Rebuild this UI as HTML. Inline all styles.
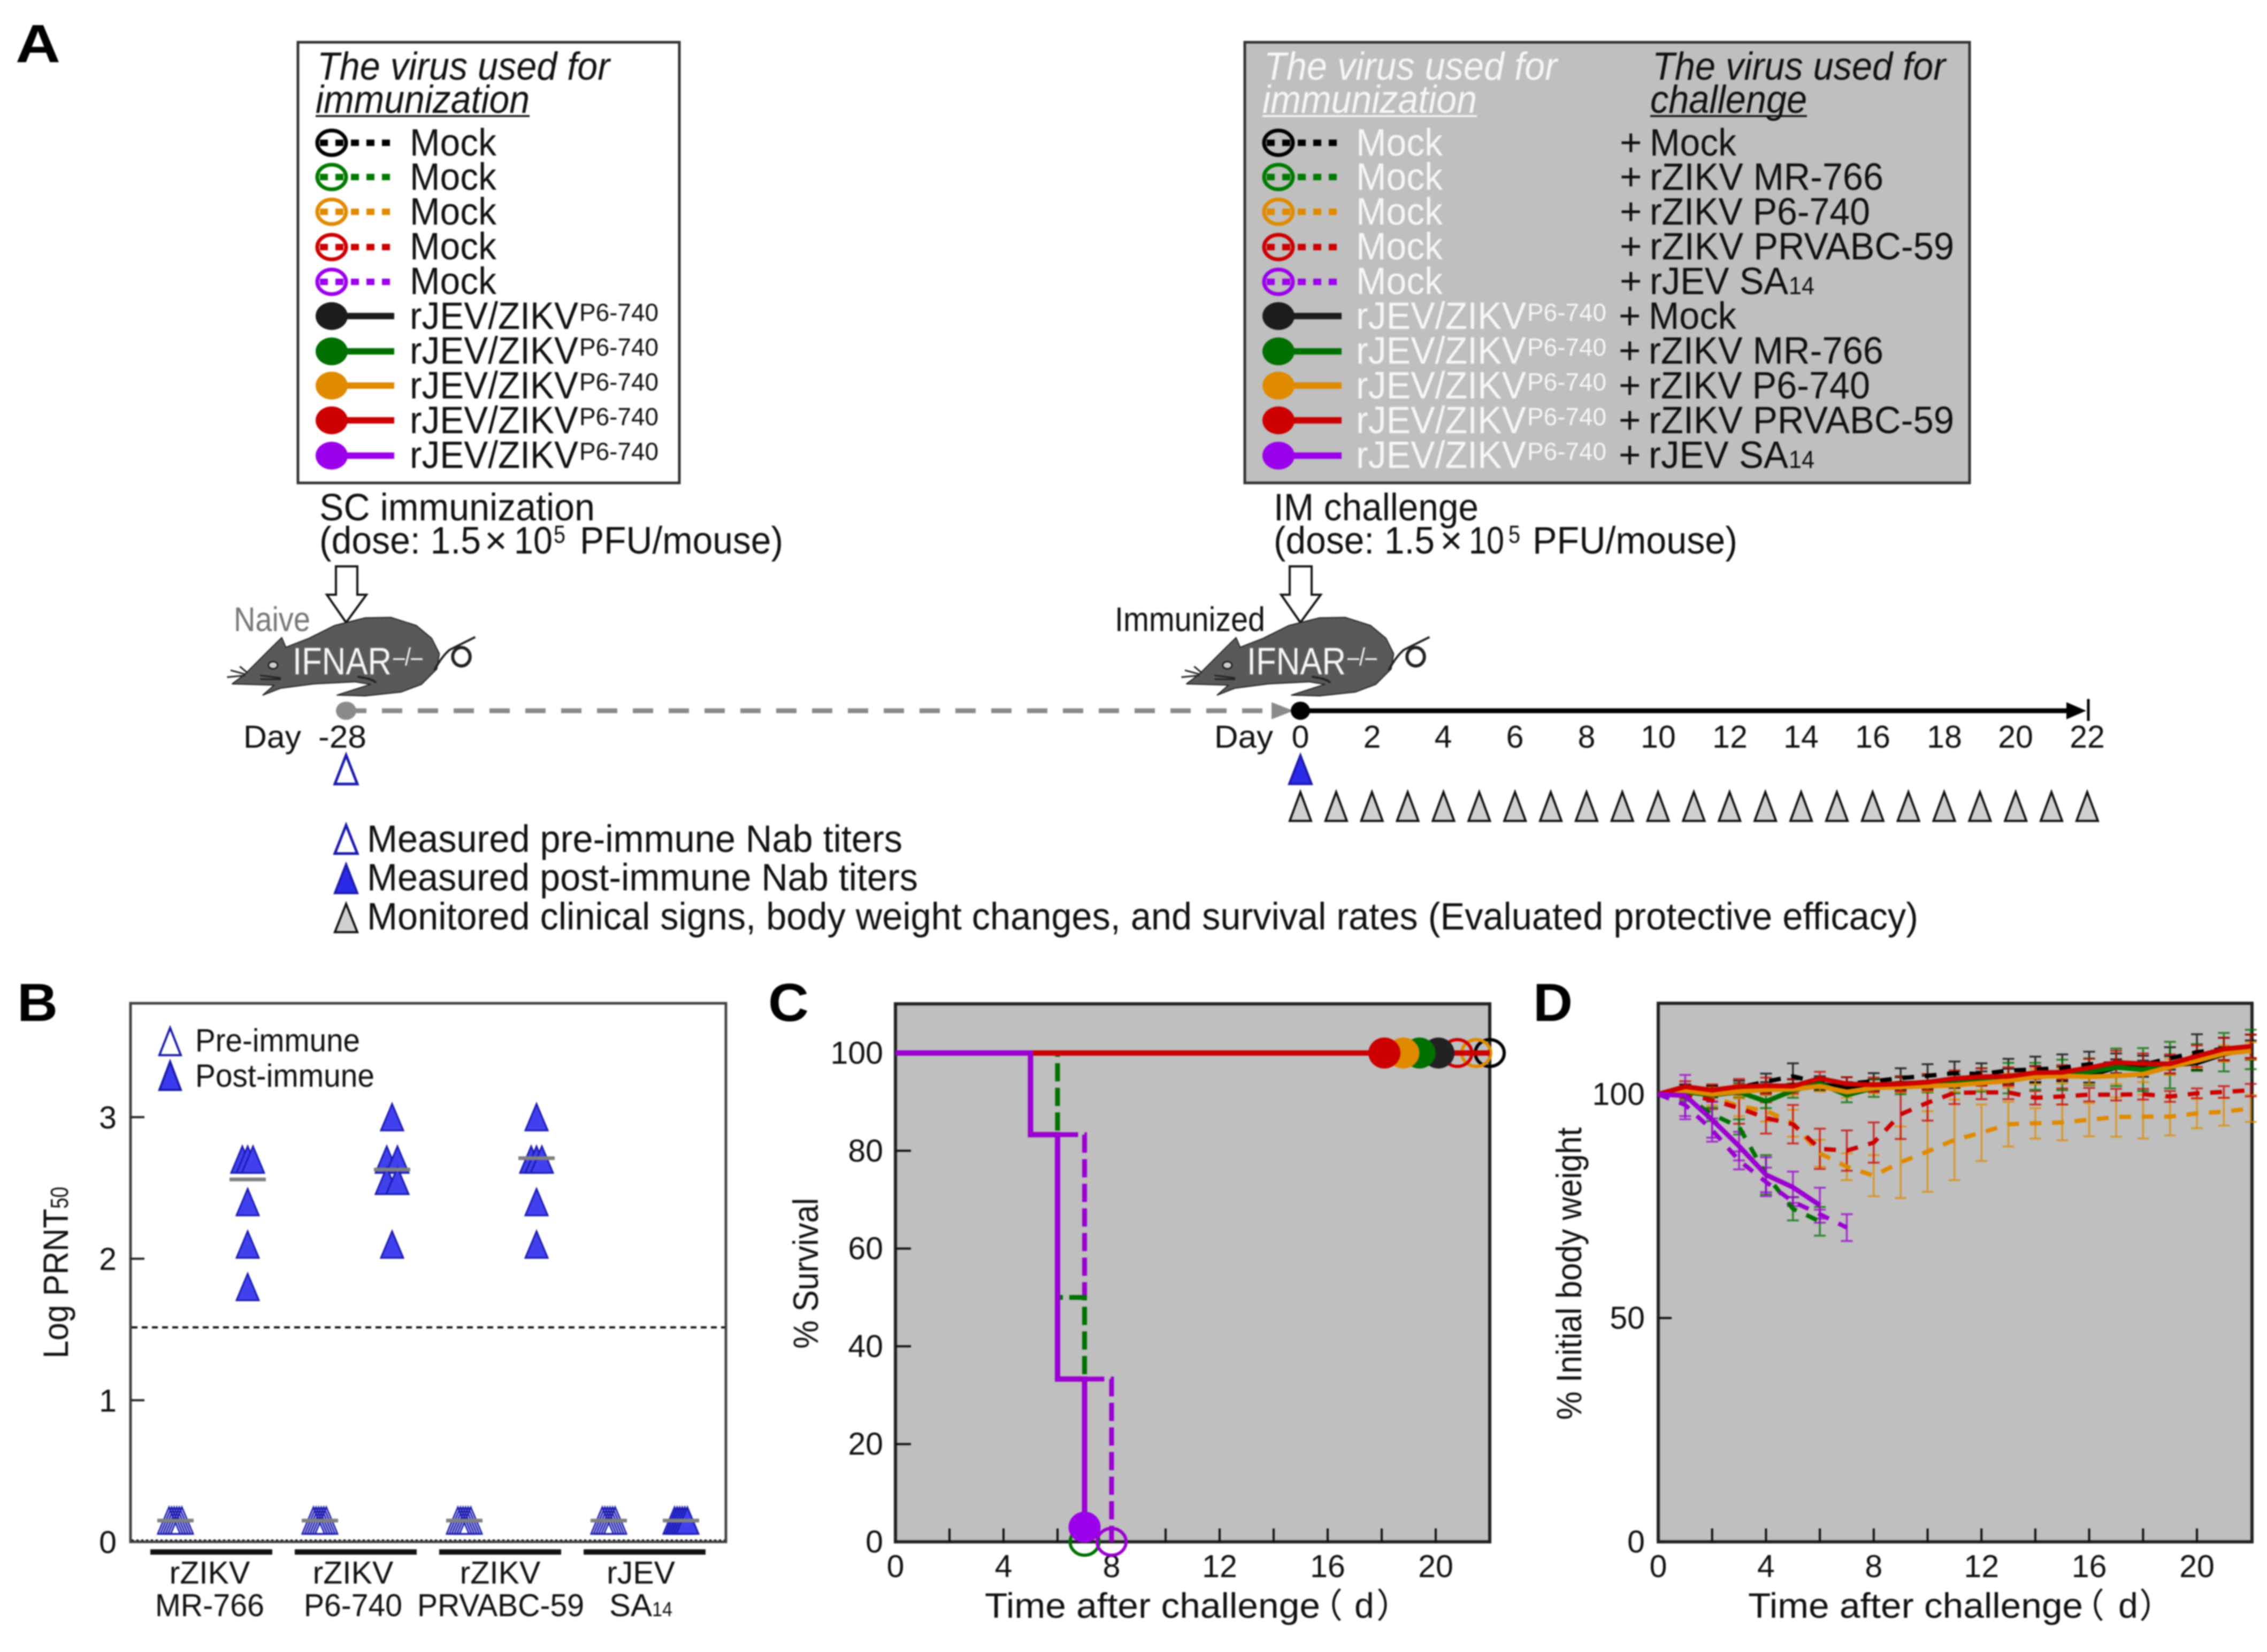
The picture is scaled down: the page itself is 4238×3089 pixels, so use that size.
<!DOCTYPE html>
<html lang="en">
<head>
<meta charset="utf-8">
<title>Immunization and challenge study figure</title>
<style>
html,body{margin:0;padding:0;background:#fff;width:4238px;height:3089px;overflow:hidden}
svg{display:block;filter:blur(1.2px)}
text{font-family:"Liberation Sans","Noto Sans CJK SC",sans-serif;font-size:71px;fill:#111}
.it{font-style:italic;font-size:73px}
.w{fill:#f6f6f6}
.sup{font-size:46px}
.pl{font-weight:bold;font-size:100px;fill:#000}
.tl{font-size:59px}
.mn{font-size:64px}
.open ellipse{fill:none;stroke:currentColor;stroke-width:7}
.open line{stroke:currentColor;stroke-width:12;stroke-dasharray:15 14}
.full ellipse{fill:currentColor}
.full line{stroke:currentColor;stroke-width:12}
.ul{stroke-width:3.5}
</style>
</head>
<body>
<svg id="fig" xmlns="http://www.w3.org/2000/svg" width="4238" height="3089" viewBox="0 0 4238 3089">
<rect width="4238" height="3089" fill="#fff"/>

<text class="pl" x="29" y="116" textLength="84" lengthAdjust="spacingAndGlyphs">A</text>
<text class="pl" x="32" y="1909" textLength="76" lengthAdjust="spacingAndGlyphs">B</text>
<text class="pl" x="1436" y="1909" textLength="76" lengthAdjust="spacingAndGlyphs">C</text>
<text class="pl" x="2866" y="1909" textLength="74" lengthAdjust="spacingAndGlyphs">D</text>

<!-- left legend -->
<g>
<rect x="557" y="79" width="713" height="824" fill="#fff" stroke="#333" stroke-width="5"/>
<text class="it" x="593" y="149" textLength="547" lengthAdjust="spacingAndGlyphs">The virus used for</text>
<text class="it" x="590" y="211" textLength="400" lengthAdjust="spacingAndGlyphs">immunization</text>
<line class="ul" x1="590" y1="217" x2="990" y2="217" stroke="#111"/>
<g class="open" color="#000"><ellipse cx="620" cy="267" rx="27" ry="23"/><line x1="598" y1="267" x2="732" y2="267"/></g>
<g class="open" color="#007a00"><ellipse cx="620" cy="331" rx="27" ry="23"/><line x1="598" y1="331" x2="732" y2="331"/></g>
<g class="open" color="#e08a00"><ellipse cx="620" cy="396" rx="27" ry="23"/><line x1="598" y1="396" x2="732" y2="396"/></g>
<g class="open" color="#cc0000"><ellipse cx="620" cy="462" rx="27" ry="23"/><line x1="598" y1="462" x2="732" y2="462"/></g>
<g class="open" color="#9a00ea"><ellipse cx="620" cy="527" rx="27" ry="23"/><line x1="598" y1="527" x2="732" y2="527"/></g>
<g class="full" color="#1c1c1c"><ellipse cx="620" cy="591" rx="30" ry="26"/><line x1="645" y1="591" x2="737" y2="591" stroke="#000"/></g>
<g class="full" color="#007000"><ellipse cx="620" cy="657" rx="30" ry="26"/><line x1="645" y1="657" x2="737" y2="657"/></g>
<g class="full" color="#e08a00"><ellipse cx="620" cy="721" rx="30" ry="26"/><line x1="645" y1="721" x2="737" y2="721"/></g>
<g class="full" color="#cc0000"><ellipse cx="620" cy="786" rx="30" ry="26"/><line x1="645" y1="786" x2="737" y2="786"/></g>
<g class="full" color="#9a00ea"><ellipse cx="620" cy="852" rx="30" ry="26"/><line x1="645" y1="852" x2="737" y2="852"/></g>
<text x="766" y="291" textLength="162" lengthAdjust="spacingAndGlyphs">Mock</text>
<text x="766" y="355" textLength="162" lengthAdjust="spacingAndGlyphs">Mock</text>
<text x="766" y="420" textLength="162" lengthAdjust="spacingAndGlyphs">Mock</text>
<text x="766" y="485" textLength="162" lengthAdjust="spacingAndGlyphs">Mock</text>
<text x="766" y="550" textLength="162" lengthAdjust="spacingAndGlyphs">Mock</text>
<text x="766" y="615" textLength="315" lengthAdjust="spacingAndGlyphs">rJEV/ZIKV</text><text class="sup" x="1083" y="600" textLength="148" lengthAdjust="spacingAndGlyphs">P6-740</text>
<text x="766" y="680" textLength="315" lengthAdjust="spacingAndGlyphs">rJEV/ZIKV</text><text class="sup" x="1083" y="665" textLength="148" lengthAdjust="spacingAndGlyphs">P6-740</text>
<text x="766" y="745" textLength="315" lengthAdjust="spacingAndGlyphs">rJEV/ZIKV</text><text class="sup" x="1083" y="730" textLength="148" lengthAdjust="spacingAndGlyphs">P6-740</text>
<text x="766" y="810" textLength="315" lengthAdjust="spacingAndGlyphs">rJEV/ZIKV</text><text class="sup" x="1083" y="795" textLength="148" lengthAdjust="spacingAndGlyphs">P6-740</text>
<text x="766" y="875" textLength="315" lengthAdjust="spacingAndGlyphs">rJEV/ZIKV</text><text class="sup" x="1083" y="860" textLength="148" lengthAdjust="spacingAndGlyphs">P6-740</text>
</g>

<!-- right legend -->
<g>
<rect x="2327" y="79" width="1355" height="824" fill="#bfbfbf" stroke="#333" stroke-width="5"/>
<text class="it w" x="2363" y="149" textLength="548" lengthAdjust="spacingAndGlyphs">The virus used for</text>
<text class="it w" x="2360" y="211" textLength="401" lengthAdjust="spacingAndGlyphs">immunization</text>
<line class="ul" x1="2360" y1="217" x2="2761" y2="217" stroke="#f6f6f6"/>
<text class="it" x="3089" y="149" textLength="548" lengthAdjust="spacingAndGlyphs">The virus used for</text>
<text class="it" x="3085" y="211" textLength="293" lengthAdjust="spacingAndGlyphs">challenge</text>
<line class="ul" x1="3085" y1="217" x2="3378" y2="217" stroke="#111"/>
<g class="open" color="#000"><ellipse cx="2390" cy="267" rx="27" ry="23"/><line x1="2368" y1="267" x2="2500" y2="267"/></g>
<g class="open" color="#007a00"><ellipse cx="2390" cy="331" rx="27" ry="23"/><line x1="2368" y1="331" x2="2500" y2="331"/></g>
<g class="open" color="#e08a00"><ellipse cx="2390" cy="396" rx="27" ry="23"/><line x1="2368" y1="396" x2="2500" y2="396"/></g>
<g class="open" color="#cc0000"><ellipse cx="2390" cy="462" rx="27" ry="23"/><line x1="2368" y1="462" x2="2500" y2="462"/></g>
<g class="open" color="#9a00ea"><ellipse cx="2390" cy="527" rx="27" ry="23"/><line x1="2368" y1="527" x2="2500" y2="527"/></g>
<g class="full" color="#1c1c1c"><ellipse cx="2390" cy="591" rx="30" ry="26"/><line x1="2415" y1="591" x2="2508" y2="591" stroke="#000"/></g>
<g class="full" color="#007000"><ellipse cx="2390" cy="657" rx="30" ry="26"/><line x1="2415" y1="657" x2="2508" y2="657"/></g>
<g class="full" color="#e08a00"><ellipse cx="2390" cy="721" rx="30" ry="26"/><line x1="2415" y1="721" x2="2508" y2="721"/></g>
<g class="full" color="#cc0000"><ellipse cx="2390" cy="786" rx="30" ry="26"/><line x1="2415" y1="786" x2="2508" y2="786"/></g>
<g class="full" color="#9a00ea"><ellipse cx="2390" cy="852" rx="30" ry="26"/><line x1="2415" y1="852" x2="2508" y2="852"/></g>
<text class="w" x="2535" y="291" textLength="162" lengthAdjust="spacingAndGlyphs">Mock</text>
<text class="w" x="2535" y="355" textLength="162" lengthAdjust="spacingAndGlyphs">Mock</text>
<text class="w" x="2535" y="420" textLength="162" lengthAdjust="spacingAndGlyphs">Mock</text>
<text class="w" x="2535" y="485" textLength="162" lengthAdjust="spacingAndGlyphs">Mock</text>
<text class="w" x="2535" y="550" textLength="162" lengthAdjust="spacingAndGlyphs">Mock</text>
<text class="w" x="2535" y="615" textLength="318" lengthAdjust="spacingAndGlyphs">rJEV/ZIKV</text><text class="sup w" x="2855" y="600" textLength="148" lengthAdjust="spacingAndGlyphs">P6-740</text>
<text class="w" x="2535" y="680" textLength="318" lengthAdjust="spacingAndGlyphs">rJEV/ZIKV</text><text class="sup w" x="2855" y="665" textLength="148" lengthAdjust="spacingAndGlyphs">P6-740</text>
<text class="w" x="2535" y="745" textLength="318" lengthAdjust="spacingAndGlyphs">rJEV/ZIKV</text><text class="sup w" x="2855" y="730" textLength="148" lengthAdjust="spacingAndGlyphs">P6-740</text>
<text class="w" x="2535" y="810" textLength="318" lengthAdjust="spacingAndGlyphs">rJEV/ZIKV</text><text class="sup w" x="2855" y="795" textLength="148" lengthAdjust="spacingAndGlyphs">P6-740</text>
<text class="w" x="2535" y="875" textLength="318" lengthAdjust="spacingAndGlyphs">rJEV/ZIKV</text><text class="sup w" x="2855" y="860" textLength="148" lengthAdjust="spacingAndGlyphs">P6-740</text>
<text x="3028" y="291">+</text><text x="3084" y="291" textLength="162" lengthAdjust="spacingAndGlyphs">Mock</text>
<text x="3028" y="355">+</text><text x="3084" y="355" textLength="437" lengthAdjust="spacingAndGlyphs">rZIKV MR-766</text>
<text x="3028" y="420">+</text><text x="3084" y="420" textLength="412" lengthAdjust="spacingAndGlyphs">rZIKV P6-740</text>
<text x="3028" y="485">+</text><text x="3084" y="485" textLength="569" lengthAdjust="spacingAndGlyphs">rZIKV PRVABC-59</text>
<text x="3028" y="550">+</text><text x="3084" y="550" textLength="259" lengthAdjust="spacingAndGlyphs">rJEV SA</text><text class="sup" x="3344" y="550" textLength="48" lengthAdjust="spacingAndGlyphs">14</text>
<text x="3026" y="615">+</text><text x="3082" y="615" textLength="164" lengthAdjust="spacingAndGlyphs">Mock</text>
<text x="3026" y="680">+</text><text x="3082" y="680" textLength="439" lengthAdjust="spacingAndGlyphs">rZIKV MR-766</text>
<text x="3026" y="745">+</text><text x="3082" y="745" textLength="414" lengthAdjust="spacingAndGlyphs">rZIKV P6-740</text>
<text x="3026" y="810">+</text><text x="3082" y="810" textLength="571" lengthAdjust="spacingAndGlyphs">rZIKV PRVABC-59</text>
<text x="3026" y="875">+</text><text x="3082" y="875" textLength="261" lengthAdjust="spacingAndGlyphs">rJEV SA</text><text class="sup" x="3344" y="875" textLength="48" lengthAdjust="spacingAndGlyphs">14</text>
</g>

<!-- dose text -->
<g>
<text x="597" y="973" textLength="515" lengthAdjust="spacingAndGlyphs">SC immunization</text>
<text x="597" y="1035" textLength="302" lengthAdjust="spacingAndGlyphs">(dose: 1.5</text>
<text x="906" y="1035" textLength="42" lengthAdjust="spacingAndGlyphs">×</text>
<text x="961" y="1035" textLength="72" lengthAdjust="spacingAndGlyphs">10</text>
<text class="sup" x="1035" y="1015" textLength="22" lengthAdjust="spacingAndGlyphs">5</text>
<text x="1084" y="1035" textLength="380" lengthAdjust="spacingAndGlyphs">PFU/mouse)</text>
</g>
<g>
<text x="2381" y="973" textLength="383" lengthAdjust="spacingAndGlyphs">IM challenge</text>
<text x="2381" y="1035" textLength="301" lengthAdjust="spacingAndGlyphs">(dose: 1.5</text>
<text x="2692" y="1035" textLength="42" lengthAdjust="spacingAndGlyphs">×</text>
<text x="2746" y="1035" textLength="66" lengthAdjust="spacingAndGlyphs">10</text>
<text class="sup" x="2820" y="1015" textLength="22" lengthAdjust="spacingAndGlyphs">5</text>
<text x="2865" y="1035" textLength="383" lengthAdjust="spacingAndGlyphs">PFU/mouse)</text>
</g>

<!-- mice -->
<g id="mouse1">
<polygon points="628,1059 668,1059 668,1112 685,1112 647,1164 611,1112 628,1112" fill="#fff" stroke="#111" stroke-width="4"/>
<g transform="translate(300,1050) scale(0.9567,0.4785)">
<path d="M140 478 L165 440 L215 340 L237 297 L245 335 L290 300 L340 250 L400 220 L450 218 L500 250 L530 300 L545 360 L540 420 L510 480 L470 510 L400 525 L345 522 L410 480 L380 470 L300 478 L235 495 L200 522 L222 483 Z" fill="#595959" stroke="#222" stroke-width="2" stroke-linejoin="round" vector-effect="non-scaling-stroke"/>
<path d="M535 425 Q550 370 565 345 L615 295 M385 450 Q420 460 420 475" fill="none" stroke="#222" stroke-width="4" vector-effect="non-scaling-stroke"/>
<ellipse cx="588" cy="372" rx="17" ry="36" fill="none" stroke="#222" stroke-width="6" vector-effect="non-scaling-stroke"/>
<ellipse cx="220" cy="405" rx="9" ry="14" fill="#ccc" stroke="#222" stroke-width="3" vector-effect="non-scaling-stroke"/>
<path d="M130 452 L165 445 M137 425 L165 440 M155 410 L170 435 M195 445 L235 455 M195 460 L235 460" fill="none" stroke="#222" stroke-width="3" vector-effect="non-scaling-stroke"/>
</g>
</g>
<g>
<polygon points="2411,1059 2452,1059 2452,1112 2469,1112 2431,1164 2395,1112 2411,1112" fill="#fff" stroke="#111" stroke-width="4"/>
<g transform="translate(2084,1050) scale(0.9567,0.4785)">
<path d="M140 478 L165 440 L215 340 L237 297 L245 335 L290 300 L340 250 L400 220 L450 218 L500 250 L530 300 L545 360 L540 420 L510 480 L470 510 L400 525 L345 522 L410 480 L380 470 L300 478 L235 495 L200 522 L222 483 Z" fill="#595959" stroke="#222" stroke-width="2" stroke-linejoin="round" vector-effect="non-scaling-stroke"/>
<path d="M535 425 Q550 370 565 345 L615 295 M385 450 Q420 460 420 475" fill="none" stroke="#222" stroke-width="4" vector-effect="non-scaling-stroke"/>
<ellipse cx="588" cy="372" rx="17" ry="36" fill="none" stroke="#222" stroke-width="6" vector-effect="non-scaling-stroke"/>
<ellipse cx="220" cy="405" rx="9" ry="14" fill="#ccc" stroke="#222" stroke-width="3" vector-effect="non-scaling-stroke"/>
<path d="M130 452 L165 445 M137 425 L165 440 M155 410 L170 435 M195 445 L235 455 M195 460 L235 460" fill="none" stroke="#222" stroke-width="3" vector-effect="non-scaling-stroke"/>
</g>
</g>
<text class="mn" x="437" y="1180" style="fill:#777" textLength="143" lengthAdjust="spacingAndGlyphs">Naive</text>
<text class="mn" x="2084" y="1180" textLength="281" lengthAdjust="spacingAndGlyphs">Immunized</text>
<text class="w" x="547" y="1261" textLength="185" lengthAdjust="spacingAndGlyphs">IFNAR</text>
<text class="sup w" x="735" y="1244" textLength="55" lengthAdjust="spacingAndGlyphs">–/–</text>
<text class="w" x="2331" y="1261" textLength="185" lengthAdjust="spacingAndGlyphs">IFNAR</text>
<text class="sup w" x="2519" y="1244" textLength="55" lengthAdjust="spacingAndGlyphs">–/–</text>

<!-- timeline -->
<g>
<ellipse cx="647" cy="1329" rx="19" ry="17" fill="#8a8a8a"/>
<line x1="647" y1="1329" x2="2378" y2="1329" stroke="#8a8a8a" stroke-width="9" stroke-dasharray="38 29"/>
<polygon points="2377,1313 2418,1329 2377,1345" fill="#8a8a8a"/>
<line x1="2431" y1="1329" x2="3870" y2="1329" stroke="#000" stroke-width="9"/>
<ellipse cx="2431" cy="1329" rx="18" ry="17" fill="#000"/>
<polygon points="3863,1313 3900,1329 3863,1345" fill="#000"/>
<line x1="3904" y1="1307" x2="3904" y2="1348" stroke="#000" stroke-width="5"/>
</g>
<g>
<text class="tl" x="455" y="1398" textLength="108" lengthAdjust="spacingAndGlyphs">Day</text>
<text class="tl" x="595" y="1398" textLength="90" lengthAdjust="spacingAndGlyphs">-28</text>
<text class="tl" x="2270" y="1398" textLength="110" lengthAdjust="spacingAndGlyphs">Day</text>
<text class="tl" x="2431" y="1398" text-anchor="middle">0</text>
<text class="tl" x="2565" y="1398" text-anchor="middle">2</text>
<text class="tl" x="2698" y="1398" text-anchor="middle">4</text>
<text class="tl" x="2832" y="1398" text-anchor="middle">6</text>
<text class="tl" x="2966" y="1398" text-anchor="middle">8</text>
<text class="tl" x="3100" y="1398" text-anchor="middle">10</text>
<text class="tl" x="3234" y="1398" text-anchor="middle">12</text>
<text class="tl" x="3367" y="1398" text-anchor="middle">14</text>
<text class="tl" x="3501" y="1398" text-anchor="middle">16</text>
<text class="tl" x="3635" y="1398" text-anchor="middle">18</text>
<text class="tl" x="3768" y="1398" text-anchor="middle">20</text>
<text class="tl" x="3902" y="1398" text-anchor="middle">22</text>
</g>
<polygon points="647,1412 668,1466 626,1466" fill="#fff" stroke="#1a1aaa" stroke-width="5"/>
<polygon points="2431,1412 2452,1466 2410,1466" fill="#2a2ae8" stroke="#1a1aaa" stroke-width="4"/>
<g id="monitorMarks"></g>

<!-- notes -->
<g>
<polygon points="647,1543 668,1596 626,1596" fill="#fff" stroke="#1a1aaa" stroke-width="5"/>
<polygon points="647,1616 668,1670 626,1670" fill="#2a2ae8" stroke="#1a1aaa" stroke-width="4"/>
<polygon points="647,1690 668,1743 626,1743" fill="#d0d0d0" stroke="#111" stroke-width="4"/>
<text x="686" y="1593" textLength="1001" lengthAdjust="spacingAndGlyphs">Measured pre-immune Nab titers</text>
<text x="686" y="1665" textLength="1030" lengthAdjust="spacingAndGlyphs">Measured post-immune Nab titers</text>
<text x="686" y="1738" textLength="2900" lengthAdjust="spacingAndGlyphs">Monitored clinical signs, body weight changes, and survival rates (Evaluated protective efficacy)</text>
</g>

<!-- Panel B -->
<g id="panelB">
<rect x="244" y="1876" width="1113" height="1007" fill="#fff" stroke="#444" stroke-width="5"/>
</g>
<text class="tl" transform="translate(127,2540) rotate(-90)" textLength="280" lengthAdjust="spacingAndGlyphs" style="font-size:66px">Log PRNT</text>
<text class="sup" transform="translate(127,2260) rotate(-90)" textLength="41" lengthAdjust="spacingAndGlyphs">50</text>
<g>
<polygon points="318,1922 338,1973 298,1973" fill="#fff" stroke="#1a1aaa" stroke-width="4"/>
<polygon points="318,1985 338,2038 298,2038" fill="#3a3af0" stroke="#1a1aaa" stroke-width="4"/>
<text class="mn" x="365" y="1966" textLength="308" lengthAdjust="spacingAndGlyphs" style="font-size:60px">Pre-immune</text>
<text class="mn" x="365" y="2032" textLength="335" lengthAdjust="spacingAndGlyphs" style="font-size:60px">Post-immune</text>
</g>
<g>
<rect x="281" y="2897" width="228" height="10" fill="#111"/><rect x="551" y="2897" width="228" height="10" fill="#111"/><rect x="821" y="2897" width="228" height="10" fill="#111"/><rect x="1091" y="2897" width="228" height="10" fill="#111"/>
<text class="tl" x="392" y="2961" text-anchor="middle">rZIKV</text>
<text class="tl" x="392" y="3022" text-anchor="middle" textLength="204" lengthAdjust="spacingAndGlyphs">MR-766</text>
<text class="tl" x="660" y="2961" text-anchor="middle">rZIKV</text>
<text class="tl" x="660" y="3022" text-anchor="middle" textLength="184" lengthAdjust="spacingAndGlyphs">P6-740</text>
<text class="tl" x="935" y="2961" text-anchor="middle">rZIKV</text>
<text class="tl" x="936" y="3022" text-anchor="middle" textLength="312" lengthAdjust="spacingAndGlyphs">PRVABC-59</text>
<text class="tl" x="1198" y="2961" text-anchor="middle">rJEV</text>
<text class="tl" x="1139" y="3022" textLength="80" lengthAdjust="spacingAndGlyphs">SA</text>
<text class="sup" x="1219" y="3022" textLength="38" lengthAdjust="spacingAndGlyphs" style="font-size:38px">14</text>
</g>

<!-- Panel C -->
<g id="panelC">
<rect x="1674" y="1877" width="1111" height="1006" fill="#bfbfbf" stroke="#222" stroke-width="6"/>
</g>
<text class="tl" transform="translate(1529,2522) rotate(-90)" textLength="282" lengthAdjust="spacingAndGlyphs" style="font-size:66px">% Survival</text>
<text class="tl" x="1841" y="3025" textLength="627" lengthAdjust="spacingAndGlyphs" style="font-size:66px">Time after challenge</text>
<text class="tl" x="2446" y="3025" style="font-size:64px;font-family:'Noto Sans CJK SC',sans-serif">（</text>
<text class="tl" x="2532" y="3025" style="font-size:66px">d</text>
<text class="tl" x="2573" y="3025" style="font-size:64px;font-family:'Noto Sans CJK SC',sans-serif">）</text>

<!-- Panel D -->
<g id="panelD">
<rect x="3100" y="1876" width="1110" height="1007" fill="#bfbfbf" stroke="#222" stroke-width="6"/>
</g>
<text class="tl" transform="translate(2956,2655) rotate(-90)" textLength="547" lengthAdjust="spacingAndGlyphs" style="font-size:66px">% Initial body weight</text>
<text class="tl" x="3268" y="3025" textLength="626" lengthAdjust="spacingAndGlyphs" style="font-size:66px">Time after challenge</text>
<text class="tl" x="3870" y="3025" style="font-size:64px;font-family:'Noto Sans CJK SC',sans-serif">（</text>
<text class="tl" x="3960" y="3025" style="font-size:66px">d</text>
<text class="tl" x="3999" y="3025" style="font-size:64px;font-family:'Noto Sans CJK SC',sans-serif">）</text>
</svg>

<script>
// ---- Timeline data ----
const monitorDays = [0,1,2,3,4,5,6,7,8,9,10,11,12,13,14,15,16,17,18,19,20,21,22];

// ---- Panel B data ----
const bTickValues = [0,1,2,3];
const bTickLabels = ['0','1','2','3'];
const bSlotKinds = ['pre','post','pre','post','pre','post','pre','post'];
const bMr766Pre = [0.15,0.15,0.15,0.15,0.15,0.15];
const bMr766Post = [2.7,2.7,2.7,2.4,2.1,1.8];
const bP6Pre = [0.15,0.15,0.15,0.15,0.15,0.15];
const bP6Post = [3.0,2.7,2.7,2.55,2.55,2.1];
const bPrvPre = [0.15,0.15,0.15,0.15,0.15,0.15];
const bPrvPost = [3.0,2.7,2.7,2.7,2.4,2.1];
const bSaPre = [0.15,0.15,0.15,0.15,0.15,0.15];
const bSaPost = [0.15,0.15,0.15,0.15,0.15,0.15];
const bMeans = [0.15,2.56,0.15,2.63,0.15,2.71,0.15,0.15];
const bDetectionLimit = 1.515;

// ---- Panel C data ----
const cYTicks = [0,20,40,60,80,100];
const cXTicks = [0,2,4,6,8,10,12,14,16,18,20];
const cXLabels = [0,4,8,12,16,20];
const cMockSaT = [0,6,7,8];
const cMockSaV = [100,83.3,33.3,0];
const cMockMrT = [0,6,7];
const cMockMrV = [100,50,0];
const cFlatT = [0,22];
const cFlatV = [100,100];
const cVaccSaT = [0,5,6,7];
const cVaccSaV = [100,83.3,33.3,3];
const cEndOpenT = [22,21.5,20.8];
const cEndOpenColors = ['#000','#e08a00','#cc0000'];
const cEndFullT = [20.1,19.4,18.8,18.1];
const cEndFullColors = ['#222','#007000','#e08a00','#cc0000'];

// ---- Panel D data (means per day, error half-widths per day) ----
const dYTicks = [0,50,100];
const dXTicks = [0,2,4,6,8,10,12,14,16,18,20];
const dXLabels = [0,4,8,12,16,20];
const dMockBlack = [100,101,100.6,101.5,102.8,104,102.5,102.3,102.9,103.6,104.1,104.7,104.5,105.3,105.5,105.9,106.7,106.9,106.6,108,109.4,110.1,110.5];
const dMockBlackErr = [0,1.2,1.3,1.5,1.8,2.9,1.5,1.5,1.8,2.2,2.6,2.6,2.4,2.6,2.9,3,2.8,2.2,2,2.5,4,2.5,2.8];
const dMockGreen = [100,99.5,95.5,92.7,82,74.4,71.6];
const dMockGreenErr = [0,1,1.5,1.7,4.4,2.6,3.2];
const dMockOrange = [100,100.2,99.5,97.3,96.3,93.5,86.8,83.8,81.8,84.8,87.2,89.8,91.4,93.3,93.5,93.7,94.3,94.9,95,95,95.7,96.1,96.8];
const dMockOrangeErr = [0,1,2,2.2,2.4,3,3,3,4.6,8,9,9,6.3,5,3.4,4,3.7,4.4,4.9,4.2,3.3,3.1,3];
const dMockRed = [100,100,98.7,96.9,94.7,93.3,87.8,87.4,89.2,95.5,98.1,100.3,100.4,100.4,99.2,99.5,99.9,99.9,100,99.5,100.2,100.5,100.9];
const dMockRedErr = [0,1,2,3.5,3.5,4.3,4.5,4.5,4.5,5.5,4,2.5,1.5,1.5,1.5,1.8,1.5,1.3,1.2,1.2,1.1,1.3,1.4];
const dMockPurple = [100,97.6,92,85.2,80.4,76,73.2,70.2];
const dMockPurpleErr = [0,3.2,2.6,2,3.2,1,1,3];
const dVaccBlack = [100,101,100.9,101.2,101.5,102,102.2,101.4,102,102.4,102.6,102.9,103.7,104,104.5,104.6,104.2,106,105.7,106.5,107,109,110];
const dVaccBlackErr = [0,1,1,1.2,1.2,1.3,1.4,1.3,1.3,1.4,1.5,1.5,1.4,1.7,1.8,1.5,1.6,1.8,1.8,2,1.6,1.6,2];
const dVaccGreen = [100,100.5,99.8,100.5,98.4,100.8,102.4,99.8,101.4,102,102.4,102.6,103.2,103.6,104,104.3,105,106,105.5,106.5,108.2,109.4,110];
const dVaccGreenErr = [0,1,1.4,1.3,1.5,1.6,1.2,1.6,2,2,2,2.4,2.6,3.4,3,3.4,3,4.2,4.8,5.2,3,4.3,4.4];
const dVaccOrange = [100,100.8,100,100.6,101,101.1,101.8,100.5,101.4,101.6,101.8,102,102.5,103,103.9,104.1,103.9,104.1,104.5,106.1,107.5,109.1,109.7];
const dVaccOrangeErr = [0,1,1.4,1.6,1.2,1.3,1.2,1.3,1.2,1.2,1.2,1.4,1.6,1.6,1.7,1.7,1.7,1.8,1.8,1.8,1.6,1.8,1.9];
const dVaccRed = [100,101.7,100.9,101.7,101.9,101.8,103.5,102.3,102.1,102.3,102.7,103.5,103.9,104,104.8,104.9,105.9,107.1,106.8,106.8,108.5,110.1,110.7];
const dVaccRedErr = [0,1.2,1.3,1.7,1.8,1.6,1.5,1.5,1.6,1.7,1.8,1.8,1.9,2,1.4,1.6,2,2.6,2.3,2.1,2.4,2.5,2.6];
const dVaccPurple = [100,99.7,94.3,88.4,82,79.2,75.2];
const dVaccPurpleErr = [0,4.6,4,3.2,3.9,3.5,3.9];

const NS = 'http://www.w3.org/2000/svg';
function el(tag, attrs, parent) {
  const n = document.createElementNS(NS, tag);
  for (const k in attrs) n.setAttribute(k, attrs[k]);
  parent.appendChild(n);
  return n;
}
function tri(parent, x, yCenter, halfW, halfH, fill, stroke, sw) {
  return el('polygon', {points: (x)+','+(yCenter-halfH)+' '+(x+halfW)+','+(yCenter+halfH)+' '+(x-halfW)+','+(yCenter+halfH), fill: fill, stroke: stroke, 'stroke-width': sw}, parent);
}

// Timeline markers
const monitorG = document.getElementById('monitorMarks');
const tlX = d => 2431 + d * 66.86;
monitorDays.forEach(d => {
  const m = tri(monitorG, tlX(d), 1508, 20, 27, '#d0d0d0', '#111', 4);
  
  
});

// Panel B
const pB = document.getElementById('panelB');
const bX = i => 328 + 135 * i;
const bY = v => 2883 - 264.7 * v;
const bSlots = [bMr766Pre,bMr766Post,bP6Pre,bP6Post,bPrvPre,bPrvPost,bSaPre,bSaPost];
bTickValues.forEach((v,i) => {
  if (v !== 0) {
    const t = el('line', {x1:244,x2:270,y1:bY(v),y2:bY(v),stroke:'#222','stroke-width':4}, pB);
    
    
  }
  const lab = el('text', {x:218,y:bY(v)+21,'text-anchor':'end',class:'tl'}, pB);
  lab.textContent = bTickLabels[i];
  
  
});
const limitLine = el('line', {x1:246,x2:1355,y1:bY(bDetectionLimit),y2:bY(bDetectionLimit),stroke:'#111','stroke-width':4,'stroke-dasharray':'11 8'}, pB);


const zeroLine = el('line', {x1:246,x2:1355,y1:bY(0)-3,y2:bY(0)-3,stroke:'#111','stroke-width':3,'stroke-dasharray':'4 5'}, pB);


bSlots.forEach((vals,i) => {
  const counts = {};
  vals.forEach(v => { counts[v] = (counts[v]||0)+1; });
  const seen = {};
  const isPre = bSlotKinds[i] === 'pre';
  vals.forEach(v => {
    const n = counts[v];
    const k = seen[v] = (seen[v]===undefined ? 0 : seen[v]+1);
    const spread = n >= 5 ? 24 : 20;
    const off = n > 1 ? (k/(n-1) - 0.5) * spread : 0;
    const p = tri(pB, bX(i)+off, bY(v), 21, 25, isPre ? 'none' : '#4040ee', '#1a1ab0', 3);
    
    
  });
  const m = el('line', {x1:bX(i)-34,x2:bX(i)+34,y1:bY(bMeans[i]),y2:bY(bMeans[i]),stroke:'#808080','stroke-width':7}, pB);
  
  
});

// Panel C
const pC = document.getElementById('panelC');
const cX = t => 1674 + 50.5 * t;
const cY = v => 2883 - 9.14 * v;
function stepPath(ts, vs) {
  let d = 'M' + cX(ts[0]) + ' ' + cY(vs[0]);
  for (let i = 1; i < ts.length; i++) {
    d += ' L' + cX(ts[i]) + ' ' + cY(vs[i-1]) + ' L' + cX(ts[i]) + ' ' + cY(vs[i]);
  }
  return d;
}
cYTicks.forEach(v => {
  if (v !== 0) {
    const t = el('line', {x1:1674,x2:1703,y1:cY(v),y2:cY(v),stroke:'#111','stroke-width':4}, pC);
    
    
  }
  const lab = el('text', {x:1651,y:cY(v)+20,'text-anchor':'end',class:'tl'}, pC);
  lab.textContent = String(v);
  
  
});
cXTicks.forEach(v => {
  if (v !== 0) {
    const t = el('line', {x1:cX(v),x2:cX(v),y1:2883,y2:2858,stroke:'#111','stroke-width':4}, pC);
    
    
  }
});
cXLabels.forEach(v => {
  const lab = el('text', {x:cX(v),y:2949,'text-anchor':'middle',class:'tl'}, pC);
  lab.textContent = String(v);
  
  
});
cEndOpenT.forEach((t,i) => {
  const c = el('ellipse', {cx:cX(t),cy:cY(100),rx:27,ry:25,fill:'none',stroke:cEndOpenColors[i],'stroke-width':6}, pC);
  
  
});
const cMockSaLine = el('path', {d:stepPath(cMockSaT,cMockSaV),fill:'none',stroke:'#9a00d0','stroke-width':9,'stroke-dasharray':'34 12'}, pC);


const cMockMrLine = el('path', {d:stepPath(cMockMrT,cMockMrV),fill:'none',stroke:'#007000','stroke-width':9,'stroke-dasharray':'34 12'}, pC);


const cFlatLine = el('path', {d:stepPath(cFlatT,cFlatV),fill:'none',stroke:'#cc0000','stroke-width':10}, pC);


const cVaccSaLine = el('path', {d:stepPath(cVaccSaT,cVaccSaV),fill:'none',stroke:'#9a00d0','stroke-width':10}, pC);


cEndFullT.forEach((t,i) => {
  const c = el('ellipse', {cx:cX(t),cy:cY(100),rx:30,ry:29,fill:cEndFullColors[i]}, pC);
  
  
});
const cOpenGreen = el('ellipse', {cx:cX(7),cy:cY(0),rx:27,ry:25,fill:'none',stroke:'#007000','stroke-width':6}, pC);


const cOpenPurple = el('ellipse', {cx:cX(8),cy:cY(0),rx:27,ry:25,fill:'none',stroke:'#9a00d0','stroke-width':6}, pC);


const cFullPurple = el('ellipse', {cx:cX(7),cy:cY(3),rx:30,ry:29,fill:'#9a00ea'}, pC);



// Panel D
const pD = document.getElementById('panelD');
const dX = t => 3100 + 50.35 * t;
const dY = v => 2883 - 8.37 * v;
dYTicks.forEach(v => {
  if (v !== 0) {
    const t = el('line', {x1:3100,x2:3125,y1:dY(v),y2:dY(v),stroke:'#111','stroke-width':4}, pD);
    
    
  }
  const lab = el('text', {x:3075,y:dY(v)+20,'text-anchor':'end',class:'tl'}, pD);
  lab.textContent = String(v);
  
  
});
dXTicks.forEach(v => {
  if (v !== 0) {
    const t = el('line', {x1:dX(v),x2:dX(v),y1:2883,y2:2858,stroke:'#111','stroke-width':4}, pD);
    
    
  }
});
dXLabels.forEach(v => {
  const lab = el('text', {x:dX(v),y:2949,'text-anchor':'middle',class:'tl'}, pD);
  lab.textContent = String(v);
  
  
});
function drawErrors(vals, errs, color, name) {
  vals.forEach((v,i) => {
    const e = errs[i];
    if (!e) return;
    const g = el('g', {stroke:color,'stroke-width':3.5,opacity:0.75}, pD);
    
    
    el('line', {x1:dX(i),x2:dX(i),y1:dY(v-e),y2:dY(v+e)}, g);
    el('line', {x1:dX(i)-11,x2:dX(i)+11,y1:dY(v-e),y2:dY(v-e)}, g);
    el('line', {x1:dX(i)-11,x2:dX(i)+11,y1:dY(v+e),y2:dY(v+e)}, g);
  });
}
function drawSeries(vals, color, dashed, name) {
  const pts = vals.map((v,i) => dX(i) + ',' + dY(v)).join(' ');
  const attrs = {points:pts,fill:'none',stroke:color,'stroke-width':dashed ? 8 : 9,'stroke-linejoin':'round'};
  if (dashed) attrs['stroke-dasharray'] = '22 20';
  const l = el('polyline', attrs, pD);
  
  
}
drawErrors(dMockOrange, dMockOrangeErr, '#e08a00', 'weight-mock-p6');
drawErrors(dMockRed, dMockRedErr, '#cc0000', 'weight-mock-prvabc');
drawErrors(dMockBlack, dMockBlackErr, '#000', 'weight-mock-mock');
drawErrors(dMockGreen, dMockGreenErr, '#007000', 'weight-mock-mr766');
drawErrors(dMockPurple, dMockPurpleErr, '#9a00d0', 'weight-mock-sa14');
drawErrors(dVaccBlack, dVaccBlackErr, '#000', 'weight-vaccine-mock');
drawErrors(dVaccGreen, dVaccGreenErr, '#007000', 'weight-vaccine-mr766');
drawErrors(dVaccOrange, dVaccOrangeErr, '#e08a00', 'weight-vaccine-p6');
drawErrors(dVaccRed, dVaccRedErr, '#cc0000', 'weight-vaccine-prvabc');
drawErrors(dVaccPurple, dVaccPurpleErr, '#9a00d0', 'weight-vaccine-sa14');
drawSeries(dMockBlack, '#000', true, 'weight-mock-mock');
drawSeries(dMockGreen, '#007000', true, 'weight-mock-mr766');
drawSeries(dMockOrange, '#e08a00', true, 'weight-mock-p6');
drawSeries(dMockRed, '#cc0000', true, 'weight-mock-prvabc');
drawSeries(dMockPurple, '#9a00d0', true, 'weight-mock-sa14');
drawSeries(dVaccBlack, '#000', false, 'weight-vaccine-mock');
drawSeries(dVaccGreen, '#007000', false, 'weight-vaccine-mr766');
drawSeries(dVaccOrange, '#e08a00', false, 'weight-vaccine-p6');
drawSeries(dVaccRed, '#cc0000', false, 'weight-vaccine-prvabc');
drawSeries(dVaccPurple, '#9a00d0', false, 'weight-vaccine-sa14');
</script>
</body>
</html>
